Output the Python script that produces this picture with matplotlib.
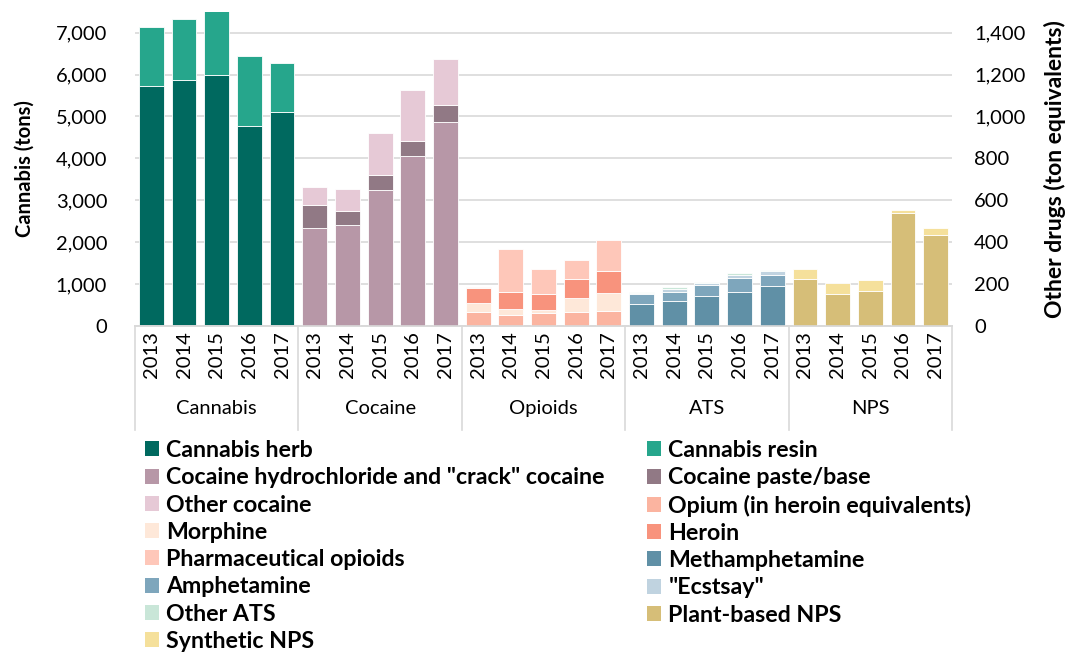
import numpy as np
import matplotlib.pyplot as plt
import matplotlib.transforms as mtransforms
from matplotlib.patches import Patch

plt.rcParams['font.family'] = ['Lato', 'DejaVu Sans']

years = ['2013', '2014', '2015', '2016', '2017']
groups = ['Cannabis', 'Cocaine', 'Opioids', 'ATS', 'NPS']

# cannabis in tons (left axis)
cannabis_herb = [5720, 5880, 6000, 4780, 5100]
cannabis_resin = [1410, 1450, 1530, 1660, 1180]
# other drugs in ton equivalents (right axis)
cocaine_hcl = [466, 480, 651, 813, 974]
cocaine_paste = [110, 68, 70, 70, 80]
cocaine_other = [86, 107, 200, 244, 220]
opium = [66, 52, 60, 66, 73]
morphine = [42, 27, 14, 66, 86]
heroin = [75, 85, 78, 92, 102]
pharma_opioids = [5, 205, 118, 92, 148]
meth = [106, 121, 145, 164, 190]
amph = [48, 43, 50, 65, 52]
ecstasy = [4, 12, 8, 14, 19]
other_ats = [6, 8, 8, 8, 8]
plant_nps = [224, 152, 165, 538, 434]
synth_nps = [46, 53, 53, 18, 33]

# (label, values, group, colour)
series = [
    ('Cannabis herb', cannabis_herb, 0, '#00695F'),
    ('Cannabis resin', cannabis_resin, 0, '#26A68C'),
    ('Cocaine hydrochloride and "crack" cocaine', cocaine_hcl, 1, '#B797A7'),
    ('Cocaine paste/base', cocaine_paste, 1, '#917985'),
    ('Other cocaine', cocaine_other, 1, '#E6C9D6'),
    ('Opium (in heroin equivalents)', opium, 2, '#FBB4A0'),
    ('Morphine', morphine, 2, '#FEE8D9'),
    ('Heroin', heroin, 2, '#F8937D'),
    ('Pharmaceutical opioids', pharma_opioids, 2, '#FEC7B9'),
    ('Methamphetamine', meth, 3, '#6090A6'),
    ('Amphetamine', amph, 3, '#7EA6BC'),
    ('"Ecstsay"', ecstasy, 3, '#C0D3E0'),
    ('Other ATS', other_ats, 3, '#C9E6D8'),
    ('Plant-based NPS', plant_nps, 4, '#D6BE78'),
    ('Synthetic NPS', synth_nps, 4, '#F5E09B'),
]

fig = plt.figure(figsize=(10.68, 6.52), dpi=100)
ax = fig.add_axes([0.1264, 0.5, 0.7650, 0.482])
ax2 = ax.twinx()

bottoms = np.zeros(len(groups) * len(years))
handles = []
for label, vals, g, color in series:
    x = np.arange(len(years)) + g * len(years)
    target = ax if g == 0 else ax2
    b = bottoms[x]
    target.bar(x, vals, bottom=b, width=0.76, color=color,
               edgecolor='white', linewidth=0.6)
    bottoms[x] = b + np.array(vals)
    handles.append(Patch(facecolor=color, label=label))

n = len(groups) * len(years)
ax.set_xlim(-0.5, n - 0.5)
ax.set_ylim(0, 7500)
ax2.set_ylim(0, 1500)
ax.set_yticks(np.arange(0, 7001, 1000))
ax2.set_yticks(np.arange(0, 1401, 200))
ax.set_yticklabels([f'{v:,}' for v in range(0, 7001, 1000)])
ax2.set_yticklabels([f'{v:,}' for v in range(0, 1401, 200)])

ax.grid(axis='y', color='#D9D9D9', linewidth=1.2)
ax.set_axisbelow(True)
for a in (ax, ax2):
    for s in ['left', 'right', 'top']:
        a.spines[s].set_visible(False)
    a.spines['bottom'].set_color('#D9D9D9')
    a.spines['bottom'].set_linewidth(1.2)

ax.tick_params(axis='y', length=0, pad=20, labelsize=14.5)
ax2.tick_params(axis='y', length=0, pad=16, labelsize=14.5)

ax.set_xticks(np.arange(n))
ax.set_xticklabels(years * len(groups), rotation=90, fontsize=14.5)
ax.tick_params(axis='x', length=0, pad=4)

ax.set_ylabel('Cannabis (tons)', fontsize=14.5, fontweight='bold', labelpad=15)
ax2.set_ylabel('Other drugs (ton equivalents)', fontsize=16.5,
               fontweight='bold', labelpad=13)

# multi-level category axis: separators and group names
trans = mtransforms.blended_transform_factory(ax.transData, ax.transAxes)
for k in range(len(groups) + 1):
    xs = k * len(years) - 0.5
    ax.plot([xs, xs], [0, -0.33], transform=trans, color='#D9D9D9',
            linewidth=1.2, clip_on=False)
for k, name in enumerate(groups):
    ax.text(k * len(years) + 2, -0.262, name, transform=trans,
            ha='center', va='center', fontsize=14.5)

# legend in two columns, filled row by row
legend_kw = dict(frameon=False, loc='upper left',
                 prop={'weight': 'bold', 'size': 16.7},
                 handlelength=0.62, handleheight=0.62, handletextpad=0.3,
                 labelspacing=0.27, borderpad=0, borderaxespad=0)
leg1 = fig.legend(handles=handles[0::2], bbox_to_anchor=(145 / 1068, 1 - 440 / 652),
                  **legend_kw)
leg2 = fig.legend(handles=handles[1::2], bbox_to_anchor=(647 / 1068, 1 - 440 / 652),
                  **legend_kw)

fig.savefig('out.png', dpi=100)
